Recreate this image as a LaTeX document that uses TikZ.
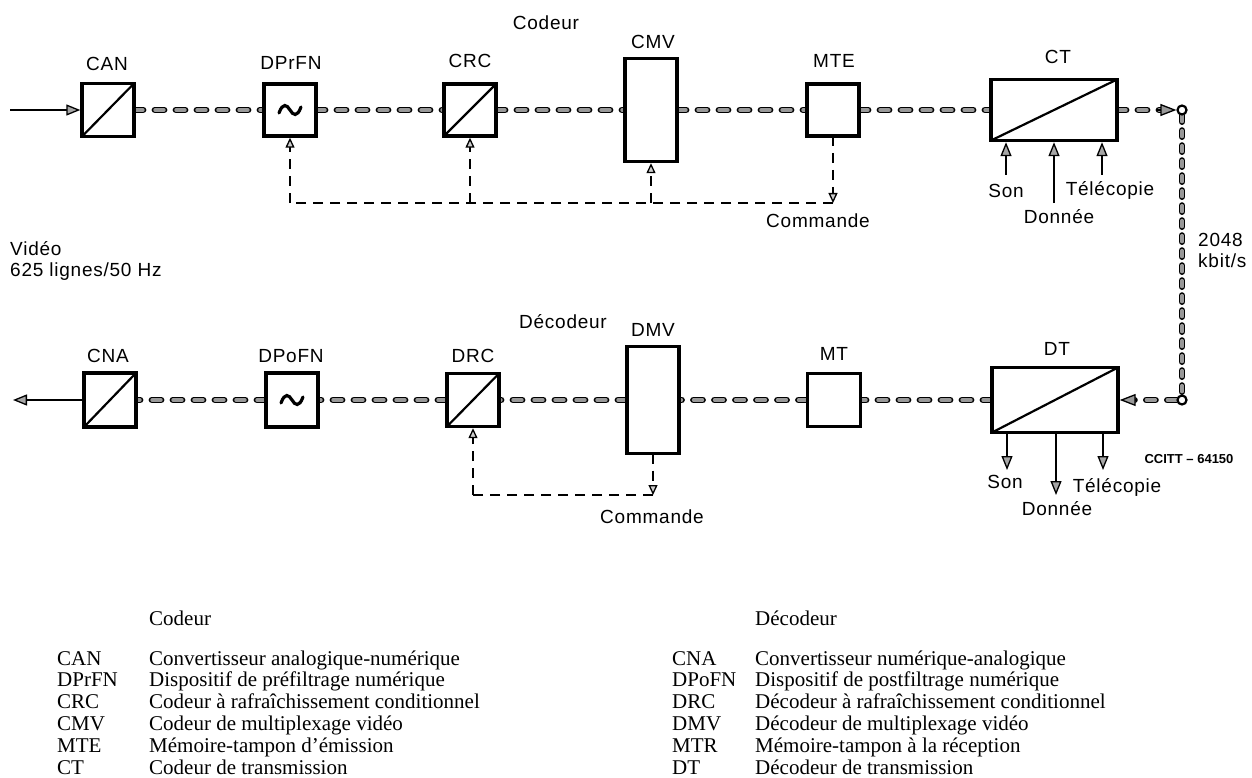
\documentclass[tikz,border=0pt]{standalone}
\usepackage{fontspec}
\newfontfamily\dfont{Liberation Sans}[LetterSpace=4]
\newfontfamily\lfont{Liberation Serif}
\newfontfamily\cfont{Liberation Sans}
\usetikzlibrary{arrows.meta,calc}
\pgfdeclarelayer{bg}
\pgfsetlayers{bg,main}
\begin{document}
\begin{tikzpicture}[x=1pt,y=-1pt,
 box/.style={draw,line width=3.4pt,fill=white,inner sep=0pt,outer sep=0pt},
 lab/.style={font=\dfont\fontsize{19}{22}\selectfont,inner sep=0pt,anchor=base},
 leg/.style={font=\lfont\fontsize{21}{23}\selectfont,inner sep=0pt,anchor=base west},
 sig/.style={line width=1.7pt,double=gray!80,double distance=3.4pt,line cap=round,dash pattern=on 9pt off 12pt},
 sigv/.style={sig,dash pattern=on 6pt off 9pt},
 cmd/.style={line width=1.8pt,dash pattern=on 10pt off 7pt},
 arr/.style={line width=1.7pt,-{Triangle[length=14pt,width=11pt,fill=gray!70,line width=1.3pt]}},
 bigtip/.style={line width=1.7pt,-{Triangle[length=16pt,width=12pt,fill=gray!80,line width=1.3pt]}},
 carr/.style={-{Triangle[length=10pt,width=9pt,fill=gray!40,line width=1.3pt]}},
 diag/.style={line width=2.2pt},
 tild/.style={line width=3.2pt,line cap=round},
 circ/.style={circle,draw,line width=2.2pt,fill=white,inner sep=0pt,minimum size=9pt}
]
\useasboundingbox (0,0) rectangle (1252,778);

% ---------- top row (Codeur) ----------
\node[box,minimum width=52pt,minimum height=53pt] (CAN) at (108,110) {};
\node[box,minimum width=52pt,minimum height=52pt] (DPrFN) at (290,110) {};
\node[box,minimum width=52pt,minimum height=52pt] (CRC) at (470,110) {};
\node[box,minimum width=52pt,minimum height=103pt] (CMV) at (651,110) {};
\node[box,minimum width=52pt,minimum height=52pt] (MTE) at (833,110) {};
\node[box,minimum width=126pt,minimum height=61pt] (CT) at (1054,110) {};
\node[circ] (o1) at (1182,110) {};

\node[lab] (tCod) at (546,30) {Codeur};
\node[lab] (lCAN) at (107,71) {CAN};
\node[lab] (lDPrFN) at (291,70) {DPrFN};
\node[lab] (lCRC) at (470,68) {CRC};
\node[lab] (lCMV) at (653,49) {CMV};
\node[lab] (lMTE) at (834,68) {MTE};
\node[lab] (lCT) at (1058,64) {CT};

% ---------- bottom row (Décodeur) ----------
\node[box,minimum width=52pt,minimum height=54pt] (CNA) at (110,400) {};
\node[box,minimum width=52pt,minimum height=54pt] (DPoFN) at (292,400) {};
\node[box,minimum width=52pt,minimum height=53pt] (DRC) at (473,400) {};
\node[box,minimum width=52pt,minimum height=107pt] (DMV) at (653,400) {};
\node[box,minimum width=53pt,minimum height=53pt] (MT) at (834,400) {};
\node[box,minimum width=126pt,minimum height=65pt] (DT) at (1055,400) {};
\node[circ] (o2) at (1182,400) {};

\node[lab] (tDec) at (563,328) {Décodeur};
\node[lab] (lCNA) at (108,362) {CNA};
\node[lab] (lDPoFN) at (291,362) {DPoFN};
\node[lab] (lDRC) at (473,362) {DRC};
\node[lab] (lDMV) at (653,336) {DMV};
\node[lab] (lMT) at (834,360) {MT};
\node[lab] (lDT) at (1057,355) {DT};

% diagonals and tildes
\foreach \b in {CAN,CRC,CT,CNA,DRC,DT}
  \draw[diag] (\b.south west) -- (\b.north east);
\foreach \b in {DPrFN,DPoFN}
  \draw[tild,shift={(\b.center)}] (-11,3) .. controls (-7,-8) and (-3,-5) .. (0,0) .. controls (3,5) and (7,8) .. (11,-3);

% ---------- signal connectors ----------
\begin{pgfonlayer}{bg}
\draw[sig] (CAN.east) -- (DPrFN.west);
\draw[sig] (DPrFN.east) -- (CRC.west);
\draw[sig] (CRC.east) -- (CMV.west);
\draw[sig] (CMV.east) -- (MTE.west);
\draw[sig] (MTE.east) -- (CT.west);
\draw[sig] (CT.east) -- ([xshift=-16pt]o1.west);
\draw[sigv] (o1.south) -- (o2.north);
\draw[sig] (o2.west) -- ([xshift=16pt]DT.east);
\draw[sig] (DT.west) -- (MT.east);
\draw[sig] (MT.west) -- (DMV.east);
\draw[sig] (DMV.west) -- (DRC.east);
\draw[sig] (DRC.west) -- (DPoFN.east);
\draw[sig] (DPoFN.west) -- (CNA.east);
\end{pgfonlayer}
\draw[bigtip] ([xshift=-19pt]o1.west) -- (o1.west);
\draw[bigtip] ([xshift=19pt]DT.east) -- ([xshift=1.7pt]DT.east);

% video in / out
\coordinate (vin) at (10,110);
\coordinate (vout) at (13,400);
\draw[arr] (vin) -- ([xshift=-1.7pt]CAN.west);
\draw[arr] (CNA.west) -- (vout);
\node[lab,anchor=base west] (vid1) at (10,255) {Vidéo};
\node[lab,anchor=base west] (vid2) at (10,276) {625 lignes/50 Hz};

% rate
\node[lab,anchor=base west] (r1) at (1198,246) {2048};
\node[lab,anchor=base west] (r2) at (1198,267) {kbit/s};

% ---------- commande (top) ----------
\coordinate (k1) at (833,203);
\coordinate (k0) at (290,203);
\draw[cmd,carr] (MTE.south) -- (k1);
\draw[cmd] (k1) -- (k0);
\draw[cmd,carr] (k0) -- ([yshift=-1.7pt]DPrFN.south);
\draw[cmd,carr] (CRC.south |- k0) -- ([yshift=-1.7pt]CRC.south);
\draw[cmd,carr] (CMV.south |- k0) -- ([yshift=-1.7pt]CMV.south);
\node[lab] (cmdT) at (818,227) {Commande};

% ---------- commande (bottom) ----------
\coordinate (k2) at (653,495);
\coordinate (k3) at (473,495);
\draw[cmd,carr] (DMV.south) -- (k2);
\draw[cmd] (k2) -- (k3);
\draw[cmd,carr] (k3) -- ([yshift=-1.7pt]DRC.south);
\node[lab] (cmdB) at (652,523) {Commande};

% ---------- auxiliary inputs to CT ----------
\coordinate (a1) at (1006,175);
\coordinate (a2) at (1054,203);
\coordinate (a3) at (1102,175);
\draw[arr] (a1) -- ([yshift=-1.7pt]CT.south -| a1);
\draw[arr] (a2) -- ([yshift=-1.7pt]CT.south -| a2);
\draw[arr] (a3) -- ([yshift=-1.7pt]CT.south -| a3);
\node[lab] (son1) at (1006,197) {Son};
\node[lab] (don1) at (1059,223) {Donnée};
\node[lab] (tel1) at (1110,196) {Télécopie};

% ---------- auxiliary outputs of DT ----------
\coordinate (b1) at (1007,470);
\coordinate (b2) at (1056,495);
\coordinate (b3) at (1103,470);
\draw[arr] (DT.south -| b1) -- (b1);
\draw[arr] (DT.south -| b2) -- (b2);
\draw[arr] (DT.south -| b3) -- (b3);
\node[lab] (son2) at (1005,488) {Son};
\node[lab] (don2) at (1057,515) {Donnée};
\node[lab] (tel2) at (1117,492) {Télécopie};

\node[font=\cfont\bfseries\fontsize{13}{15}\selectfont,inner sep=0pt,anchor=base] (ref) at (1189,463) {CCITT – 64150};

% ---------- legend ----------
\node[leg] (hCod) at (149,625) {Codeur};
\node[leg] (hDec) at (755,625) {Décodeur};
\foreach \a/\d [count=\i from 0] in {CAN/Convertisseur analogique-numérique,DPrFN/Dispositif de préfiltrage numérique,CRC/Codeur à rafraîchissement conditionnel,CMV/Codeur de multiplexage vidéo,MTE/Mémoire-tampon d’émission,CT/Codeur de transmission}{
  \node[leg] (la\i) at (57,665+21.8*\i) {\a};
  \node[leg] (ld\i) at (149,665+21.8*\i) {\d};
}
\foreach \a/\d [count=\i from 0] in {CNA/Convertisseur numérique-analogique,DPoFN/Dispositif de postfiltrage numérique,DRC/Décodeur à rafraîchissement conditionnel,DMV/Décodeur de multiplexage vidéo,MTR/Mémoire-tampon à la réception,DT/Décodeur de transmission}{
  \node[leg] (ra\i) at (672,665+21.8*\i) {\a};
  \node[leg] (rd\i) at (755,665+21.8*\i) {\d};
}
\end{tikzpicture}
\end{document}
